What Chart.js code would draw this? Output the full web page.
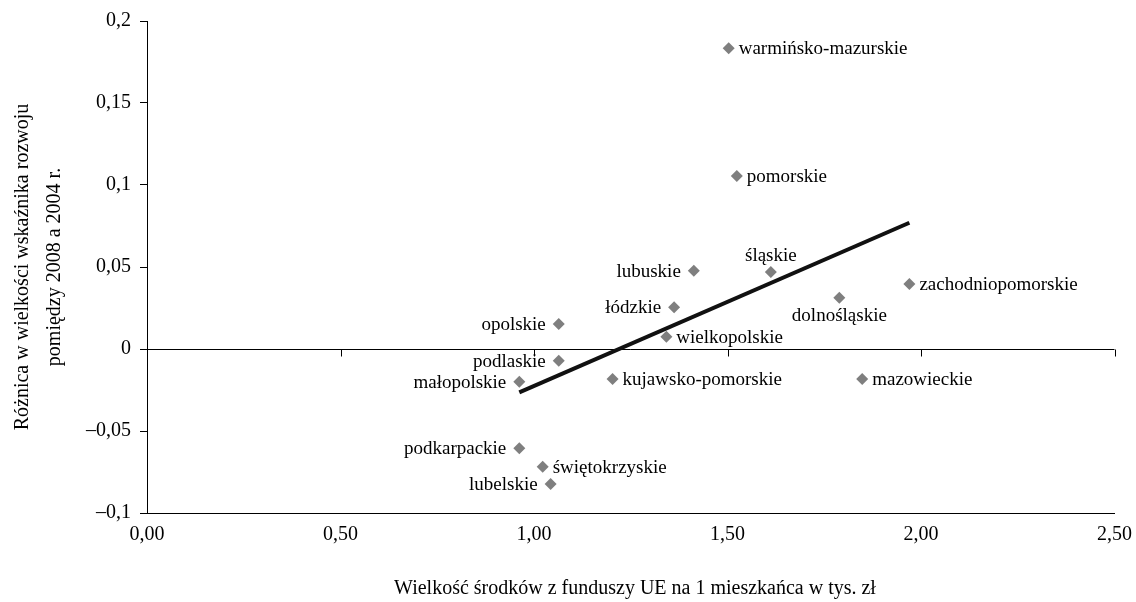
<!DOCTYPE html>
<html>
<head>
<meta charset="utf-8">
<script src="https://cdn.jsdelivr.net/npm/chart.js@4.4.1/dist/chart.umd.min.js"></script>
<style>
  html, body { margin: 0; padding: 0; background: #fff; }
  #wrap { width: 1136px; height: 602px; }
</style>
</head>
<body>
<div id="wrap"><canvas id="c" width="1136" height="602"></canvas></div>
<script>
// ---- data ----
const regions = ['warmińsko-mazurskie','pomorskie','lubuskie','śląskie','zachodniopomorskie','dolnośląskie','łódzkie','opolskie','wielkopolskie','podlaskie','małopolskie','kujawsko-pomorskie','mazowieckie','podkarpackie','świętokrzyskie','lubelskie'];
const fundsPerCapita = [1.503, 1.524, 1.413, 1.612, 1.970, 1.789, 1.362, 1.064, 1.342, 1.064, 0.962, 1.203, 1.848, 0.962, 1.0225, 1.043];
const devIndexDiff   = [0.1834, 0.1055, 0.0477, 0.0470, 0.0396, 0.0313, 0.0254, 0.0152, 0.0075, -0.0071, -0.0199, -0.0183, -0.0183, -0.0605, -0.0718, -0.0823];
const trendX = [0.962, 1.970];
const trendY = [-0.0264, 0.0770];
const xTickLabels = ['0,00','0,50','1,00','1,50','2,00','2,50'];
const yTickLabels = ['–0,1','–0,05','0','0,05','0,1','0,15','0,2'];
const xTitle = 'Wielkość środków z funduszy UE na 1 mieszkańca w tys. zł';
const yTitle = ['Różnica w wielkości wskaźnika rozwoju', 'pomiędzy 2008 a 2004 r.'];

// ---- label placement (style) ----
const labelSide = {
  'warmińsko-mazurskie':'right','pomorskie':'right','lubuskie':'left','śląskie':'above',
  'zachodniopomorskie':'right','dolnośląskie':'below','łódzkie':'left','opolskie':'left',
  'wielkopolskie':'right','podlaskie':'left','małopolskie':'left','kujawsko-pomorskie':'right',
  'mazowieckie':'right','podkarpackie':'left','świętokrzyskie':'right','lubelskie':'left'
};

const AXIS_FONT = '"Liberation Serif", "DejaVu Serif", serif';

const pointData = regions.map((r, i) => ({x: fundsPerCapita[i], y: devIndexDiff[i]}));
const trendData = trendX.map((x, i) => ({x: x, y: trendY[i]}));

const zeroLinePlugin = {
  id: 'zeroLine',
  beforeDatasetsDraw(chart) {
    const {ctx, chartArea, scales: {x, y}} = chart;
    const y0 = Math.round(y.getPixelForValue(0)) + 0.5;
    ctx.save();
    ctx.strokeStyle = '#000';
    ctx.lineWidth = 1;
    ctx.beginPath();
    ctx.moveTo(chartArea.left, y0);
    ctx.lineTo(chartArea.right, y0);
    x.ticks.forEach((t, i) => {
      if (i === 0) return;
      const px = Math.round(x.getPixelForValue(t.value)) + 0.5;
      ctx.moveTo(px, y0);
      ctx.lineTo(px, y0 + 7);
    });
    ctx.stroke();
    ctx.restore();
  }
};

const labelsPlugin = {
  id: 'pointLabels',
  afterDatasetsDraw(chart) {
    const {ctx} = chart;
    const meta = chart.getDatasetMeta(0);
    ctx.save();
    ctx.font = '19px "Liberation Serif", serif';
    ctx.fillStyle = '#000';
    meta.data.forEach((el, i) => {
      const name = regions[i];
      const side = labelSide[name];
      const px = el.x, py = el.y;
      if (side === 'right') {
        ctx.textAlign = 'left'; ctx.textBaseline = 'middle';
        ctx.fillText(name, px + 10, py + 1);
      } else if (side === 'left') {
        ctx.textAlign = 'right'; ctx.textBaseline = 'middle';
        ctx.fillText(name, px - 13, py + 1);
      } else if (side === 'above') {
        ctx.textAlign = 'center'; ctx.textBaseline = 'middle';
        ctx.fillText(name, px, py - 16);
      } else {
        ctx.textAlign = 'center'; ctx.textBaseline = 'middle';
        ctx.fillText(name, px, py + 18);
      }
    });
    ctx.restore();
  }
};

const titlesPlugin = {
  id: 'axisTitles',
  afterDraw(chart) {
    const {ctx, chartArea} = chart;
    ctx.save();
    ctx.fillStyle = '#000';
    ctx.font = '20px ' + AXIS_FONT;
    ctx.textAlign = 'center';
    ctx.textBaseline = 'middle';
    ctx.fillText(xTitle, 635, 589);
    const cy = (chartArea.top + chartArea.bottom) / 2;
    const xs = [23, 55];
    yTitle.forEach((line, i) => {
      ctx.save();
      ctx.translate(xs[i], cy);
      ctx.rotate(-Math.PI / 2);
      ctx.fillText(line, 0, 0);
      ctx.restore();
    });
    ctx.restore();
  }
};

new Chart(document.getElementById('c'), {
  type: 'scatter',
  data: {
    datasets: [
      {
        data: pointData,
        pointStyle: 'rectRot',
        pointRadius: 6,
        pointHoverRadius: 6,
        backgroundColor: '#7f7f7f',
        borderColor: '#7f7f7f',
        borderWidth: 0,
        order: 2
      },
      {
        type: 'line',
        data: trendData,
        borderColor: '#111',
        borderWidth: 4,
        pointRadius: 0,
        fill: false,
        order: 1
      }
    ]
  },
  options: {
    responsive: false,
    animation: false,
    events: [],
    layout: { padding: { top: 21, right: 21.5, left: 0, bottom: 0 }, autoPadding: false },
    plugins: { legend: { display: false }, tooltip: { enabled: false } },
    scales: {
      x: {
        type: 'linear',
        min: 0, max: 2.5,
        afterFit(s) { s.height = 89; s.paddingRight = 0; s.paddingLeft = 0; },
        ticks: {
          stepSize: 0.5,
          padding: 10,
          color: '#000',
          font: { family: AXIS_FONT, size: 20 },
          maxRotation: 0,
          callback: (v, i) => xTickLabels[i]
        },
        grid: { drawOnChartArea: false, drawTicks: false },
        border: { display: true, color: '#000', width: 1 }
      },
      y: {
        type: 'linear',
        min: -0.1, max: 0.2,
        afterFit(s) { s.width = 147; s.paddingTop = 0; s.paddingBottom = 0; },
        ticks: {
          stepSize: 0.05,
          padding: 9,
          color: '#000',
          font: { family: AXIS_FONT, size: 20 },
          callback: (v, i) => yTickLabels[i]
        },
        grid: { drawOnChartArea: false, drawTicks: true, tickLength: 7, color: '#000' },
        border: { display: true, color: '#000', width: 1 }
      }
    }
  },
  plugins: [zeroLinePlugin, labelsPlugin, titlesPlugin]
});
</script>
</body>
</html>
